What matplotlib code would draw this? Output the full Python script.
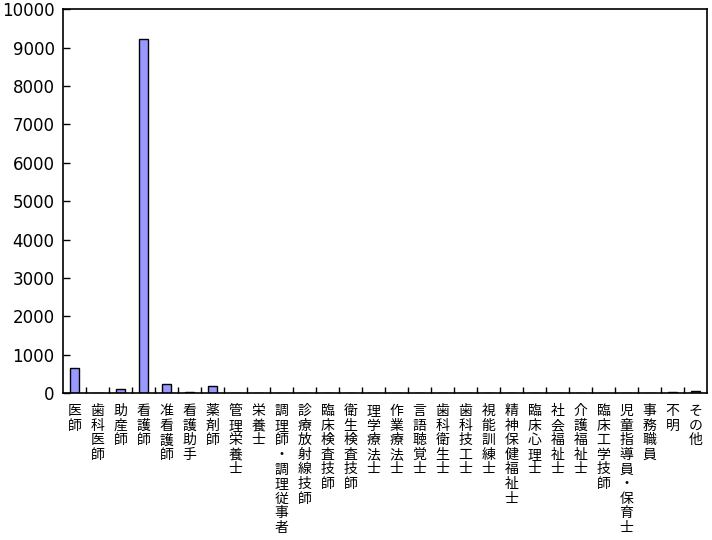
import matplotlib
matplotlib.use("Agg")
import matplotlib.pyplot as plt
import numpy as np

plt.rcParams['font.family'] = ['Noto Sans CJK JP', 'DejaVu Sans']

categories = ["医師", "歯科医師", "助産師", "看護師", "准看護師", "看護助手", "薬剤師",
              "管理栄養士", "栄養士", "調理師・調理従事者", "診療放射線技師", "臨床検査技師",
              "衛生検査技師", "理学療法士", "作業療法士", "言語聴覚士", "歯科衛生士",
              "歯科技工士", "視能訓練士", "精神保健福祉士", "臨床心理士", "社会福祉士",
              "介護福祉士", "臨床工学技師", "児童指導員・保育士", "事務職員", "不明", "その他"]
values = [645, 0, 95, 9220, 235, 25, 180, 0, 0, 0, 0, 0, 0, 0, 0, 0, 0, 0, 0, 0,
          0, 0, 0, 0, 0, 0, 25, 50]
yticks = [0, 1000, 2000, 3000, 4000, 5000, 6000, 7000, 8000, 9000, 10000]

fig = plt.figure(figsize=(7.12, 5.4), dpi=100)
ax = fig.add_axes([0.0885, 0.272, 0.9045, 0.711])

x = np.arange(len(categories))
ax.bar(x, values, width=0.38, color='#9999FF', edgecolor='black', linewidth=1.0)

ax.set_xlim(-0.5, len(categories) - 0.5)
ax.set_ylim(0, 10000)
ax.set_yticks(yticks)
ax.set_yticklabels([str(v) for v in yticks], fontsize=12, family=['DejaVu Sans'])
ax.tick_params(axis='y', direction='in', length=5, width=1, pad=6)

ax.set_xticks(x)
ax.set_xticklabels(['\n'.join(c) for c in categories], fontsize=10, linespacing=1.05, va='top')
ax.tick_params(axis='x', length=0, pad=8)
ax.set_xticks(np.arange(len(categories) - 1) + 0.5, minor=True)
ax.tick_params(axis='x', which='minor', direction='in', length=4, width=1)

for s in ax.spines.values():
    s.set_linewidth(1.2)
    s.set_color('black')

fig.savefig('out.png', dpi=100)
